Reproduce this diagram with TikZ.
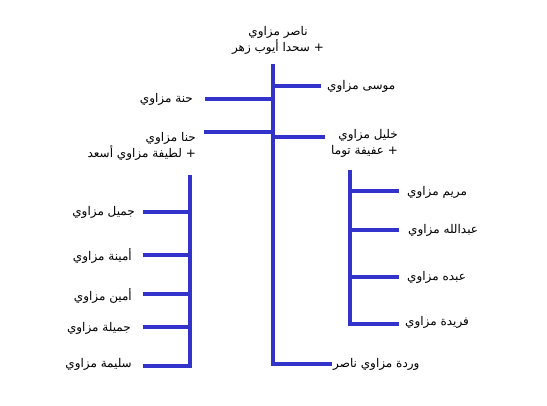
\documentclass[tikz,border=0pt]{standalone}
\usepackage{fontspec}
\newfontfamily\arabicfont[Script=Arabic]{DejaVu Sans}
\TeXXeTstate=1
\definecolor{linkblue}{RGB}{51,51,204}
\begin{document}
\begin{tikzpicture}[x=1pt,y=-1pt,
  link/.style={draw=linkblue,line width=3.2pt,line cap=rect},
  lbl/.style={font=\arabicfont\fontsize{12}{16}\selectfont,inner sep=0pt,text=black}]
\useasboundingbox[fill=white] (0,0) rectangle (547,406);

% labels
\node[lbl,align=center] (root) at (278,40) {\beginR ناصر مزاوي\endR\\\beginR + سحدا أيوب زهر\endR};
\node[lbl,anchor=east] (hanneh) at (193,99) {\beginR حنة مزاوي\endR};
\node[lbl,anchor=east,align=right] (hanna) at (196,146) {\beginR حنا مزاوي\endR\\\beginR + لطيفة مزاوي أسعد\endR};
\node[lbl,anchor=west] (musa) at (327,86) {\beginR موسى مزاوي\endR};
\node[lbl,anchor=west,align=right] (khalil) at (331,143) {\beginR خليل مزاوي\endR\\\beginR + عفيفة توما\endR};
\node[lbl,anchor=west] (warda) at (333,364) {\beginR وردة مزاوي ناصر\endR};

\node[lbl,anchor=east] (jamil) at (135,212) {\beginR جميل مزاوي\endR};
\node[lbl,anchor=east] (amina) at (132,256) {\beginR أمينة مزاوي\endR};
\node[lbl,anchor=east] (amin) at (132,296) {\beginR أمين مزاوي\endR};
\node[lbl,anchor=east] (jamila) at (131,328) {\beginR جميلة مزاوي\endR};
\node[lbl,anchor=east] (salima) at (132,364) {\beginR سليمة مزاوي\endR};

\node[lbl,anchor=west] (maryam) at (407,192) {\beginR مريم مزاوي\endR};
\node[lbl,anchor=west] (abdallah) at (408,230) {\beginR عبدالله مزاوي\endR};
\node[lbl,anchor=west] (abdo) at (407,277) {\beginR عبده مزاوي\endR};
\node[lbl,anchor=west] (farida) at (405,322) {\beginR فريدة مزاوي\endR};

% junction coordinates
\coordinate (t0) at (273,66);
\coordinate (t1) at (273,364);
\coordinate (jm) at (273,86);  \coordinate (em) at (319,86);
\coordinate (jh) at (273,99);  \coordinate (eh) at (207,99);
\coordinate (jn) at (273,132); \coordinate (en) at (206,132);
\coordinate (jk) at (273,137); \coordinate (ek) at (323,137);
\coordinate (ew) at (330,364);

\coordinate (l0) at (190,177); \coordinate (l1) at (190,366);
\coordinate (lj1) at (190,212); \coordinate (le1) at (145,212);
\coordinate (lj2) at (190,255); \coordinate (le2) at (145,255);
\coordinate (lj3) at (190,294); \coordinate (le3) at (145,294);
\coordinate (lj4) at (190,327); \coordinate (le4) at (145,327);
\coordinate (le5) at (145,366);

\coordinate (r0) at (350,172); \coordinate (r1) at (350,324);
\coordinate (rj1) at (350,191); \coordinate (re1) at (397,191);
\coordinate (rj2) at (350,230); \coordinate (re2) at (397,230);
\coordinate (rj3) at (350,277); \coordinate (re3) at (397,277);
\coordinate (re4) at (397,324);

% connectors
\draw[link] (t0) -- (t1);
\draw[link] (jm) -- (em);
\draw[link] (jh) -- (eh);
\draw[link] (jn) -- (en);
\draw[link] (jk) -- (ek);
\draw[link] (t1) -- (ew);

\draw[link] (l0) -- (l1);
\draw[link] (lj1) -- (le1);
\draw[link] (lj2) -- (le2);
\draw[link] (lj3) -- (le3);
\draw[link] (lj4) -- (le4);
\draw[link] (l1) -- (le5);

\draw[link] (r0) -- (r1);
\draw[link] (rj1) -- (re1);
\draw[link] (rj2) -- (re2);
\draw[link] (rj3) -- (re3);
\draw[link] (r1) -- (re4);
\end{tikzpicture}
\end{document}
